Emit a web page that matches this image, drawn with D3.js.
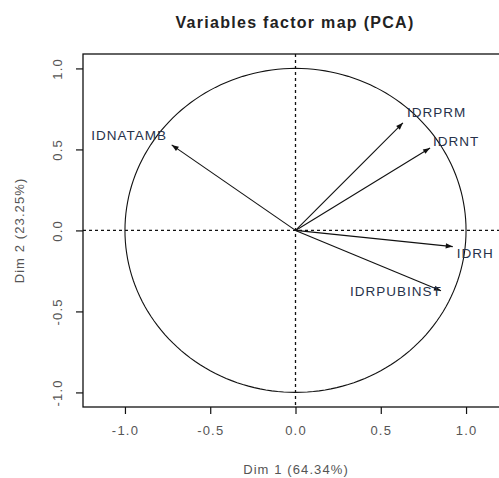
<!DOCTYPE html>
<html>
<head>
<meta charset="utf-8">
<script src="https://cdn.jsdelivr.net/npm/d3@7"></script>
<style>
  body { margin: 0; background: #fff; }
  text { font-family: "Liberation Sans", Arial, sans-serif; }
</style>
</head>
<body>
<div id="chart"></div>
<script>

// variables and their coordinates on Dim 1 / Dim 2
var varNames = ["IDNATAMB", "IDRPRM", "IDRNT", "IDRH", "IDRPUBINST"]
var dim1 = [-0.726, 0.630, 0.789, 0.922, 0.853]
var dim2 = [0.528, 0.664, 0.509, -0.100, -0.373]

// where the labels sit (data units) and which side of the point they hang
var labelX = [-0.754, 0.654, 0.806, 0.945, 0.857]
var labelY = [0.586, 0.728, 0.549, -0.142, -0.377]
var labelSide = ["end", "start", "start", "start", "end"]

var xTicks = [-1.0, -0.5, 0.0, 0.5, 1.0]
var yTicks = [-1.0, -0.5, 0.0, 0.5, 1.0]

var title = "Variables factor map (PCA)"
var xTitle = "Dim 1 (64.34%)"
var yTitle = "Dim 2 (23.25%)"

var width = 499
var height = 478

var plotLeft = 83
var plotRight = 508
var plotTop = 54
var plotBottom = 407

var x = d3.scaleLinear().domain([-1.246, 1.246]).range([plotLeft, plotRight])
var y = d3.scaleLinear().domain([-1.09, 1.089]).range([plotBottom, plotTop])

const svg = d3.select("#chart").append("svg")
  .attr("width", width)
  .attr("height", height)

// title
svg.append("text")
  .attr("x", 295)
  .attr("y", 28)
  .attr("text-anchor", "middle")
  .style("font-size", "16px")
  .style("font-weight", "bold")
  .style("letter-spacing", "1.3px")
  .attr("fill", "#222")
  .text(title)

// axes, R style (ticks outside, no axis line)
var xAxis = svg.append("g")
  .attr("transform", `translate(0, ${plotBottom})`)
  .call(d3.axisBottom(x).tickValues(xTicks).tickFormat(d3.format(".1f")).tickSize(7).tickPadding(12))
xAxis.select(".domain").remove()

var yAxis = svg.append("g")
  .attr("transform", `translate(${plotLeft}, 0)`)
  .call(d3.axisLeft(y).tickValues(yTicks).tickFormat(d3.format(".1f")).tickSize(7).tickPadding(12))
yAxis.select(".domain").remove()

svg.selectAll(".tick line").attr("stroke", "#111").attr("stroke-width", 1.2)
svg.selectAll(".tick text")
  .style("font-size", "13px")
  .style("letter-spacing", "1.2px")
  .attr("fill", "#555")
  .text(d => d3.format(".1f")(d).replace("−", "-"))

yAxis.selectAll(".tick text")
  .attr("text-anchor", "middle")
  .attr("x", null)
  .attr("dy", null)
  .attr("transform", "translate(-21, 0) rotate(-90)")

// axis titles
svg.append("text")
  .attr("x", 296)
  .attr("y", 474)
  .attr("text-anchor", "middle")
  .style("font-size", "13px")
  .style("letter-spacing", "1.1px")
  .attr("fill", "#555")
  .text(xTitle)

svg.append("text")
  .attr("transform", `translate(24, ${(plotTop + plotBottom) / 2}) rotate(-90)`)
  .attr("text-anchor", "middle")
  .style("font-size", "13px")
  .style("letter-spacing", "1.1px")
  .attr("fill", "#555")
  .text(yTitle)

// plot box
svg.append("rect")
  .attr("x", plotLeft)
  .attr("y", plotTop)
  .attr("width", plotRight - plotLeft)
  .attr("height", plotBottom - plotTop)
  .attr("fill", "none")
  .attr("stroke", "#111")
  .attr("stroke-width", 1.3)

// dashed reference lines at 0
svg.append("line")
  .attr("x1", plotLeft).attr("x2", plotRight)
  .attr("y1", y(0)).attr("y2", y(0))
  .attr("stroke", "#111")
  .attr("stroke-width", 1.3)
  .attr("stroke-dasharray", "3,3")

svg.append("line")
  .attr("x1", x(0)).attr("x2", x(0))
  .attr("y1", plotTop).attr("y2", plotBottom)
  .attr("stroke", "#111")
  .attr("stroke-width", 1.3)
  .attr("stroke-dasharray", "3,3")

// correlation circle
var angles = d3.range(0, 361, 2).map(a => a * Math.PI / 180)
var circleLine = d3.line()
  .x(a => x(Math.cos(a)))
  .y(a => y(Math.sin(a)))

svg.append("path")
  .attr("d", circleLine(angles))
  .attr("fill", "none")
  .attr("stroke", "#111")
  .attr("stroke-width", 1.1)

// arrows
var headLen = 7
var headHalf = 2.6

var arrows = svg.append("g")
  .selectAll("g")
  .data(varNames)
  .enter().append("g")

arrows.append("line")
  .attr("x1", x(0))
  .attr("y1", y(0))
  .attr("x2", (d, i) => x(dim1[i]))
  .attr("y2", (d, i) => y(dim2[i]))
  .attr("stroke", "#111")
  .attr("stroke-width", 1.1)

arrows.append("path")
  .attr("d", function(d, i) {
    var x2 = x(dim1[i]), y2 = y(dim2[i])
    var ang = Math.atan2(y2 - y(0), x2 - x(0))
    var bx = x2 - headLen * Math.cos(ang), by = y2 - headLen * Math.sin(ang)
    var px = -Math.sin(ang) * headHalf, py = Math.cos(ang) * headHalf
    return `M${x2},${y2}L${bx + px},${by + py}L${bx - px},${by - py}Z`
  })
  .attr("fill", "#111")

arrows.append("text")
  .attr("x", (d, i) => x(labelX[i]))
  .attr("y", (d, i) => y(labelY[i]))
  .attr("dy", "0.36em")
  .attr("text-anchor", (d, i) => labelSide[i])
  .style("font-size", "13.5px")
  .style("letter-spacing", "1px")
  .attr("fill", "#27324a")
  .text(d => d)

</script>
</body>
</html>
